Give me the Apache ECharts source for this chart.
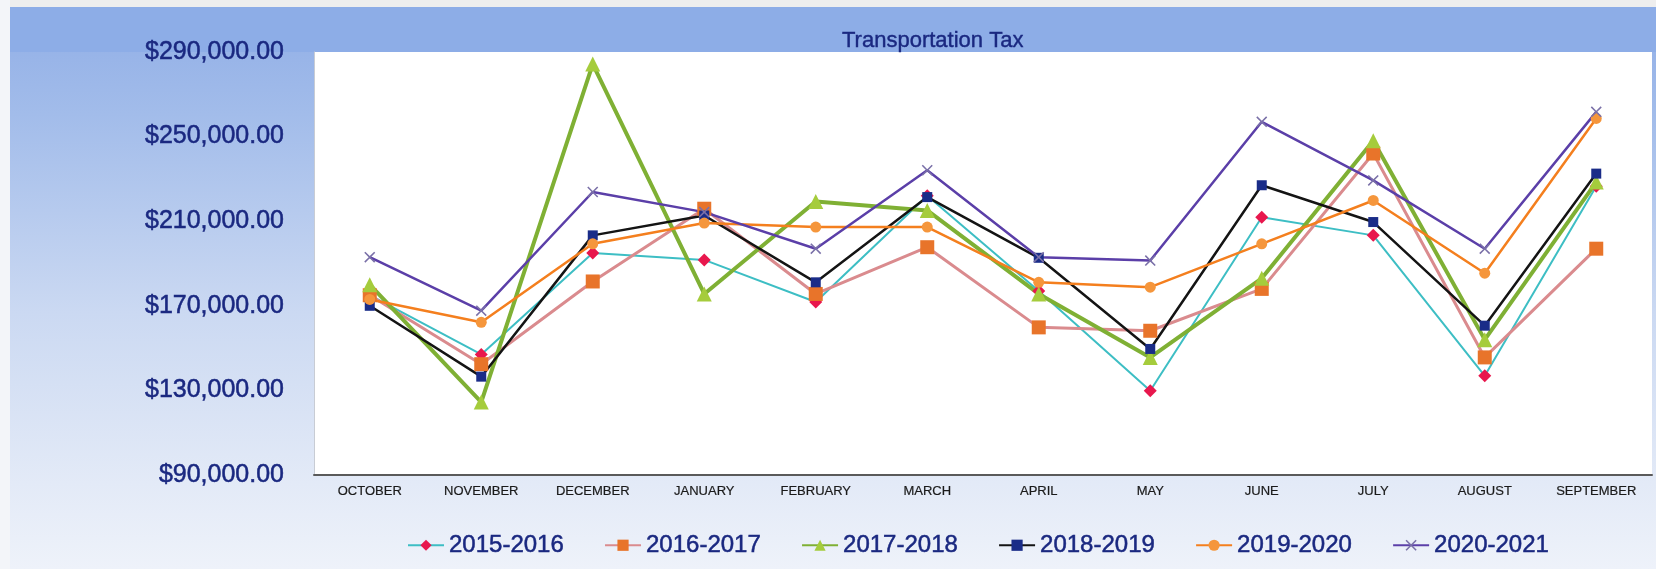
<!DOCTYPE html>
<html>
<head>
<meta charset="utf-8">
<title>Transportation Tax</title>
<script src="https://cdn.jsdelivr.net/npm/echarts@6/dist/echarts.min.js"></script>
<style>
  html, body { margin: 0; padding: 0; }
  #chart { width: 1656px; height: 569px; }
</style>
</head>
<body>
<div id="chart"></div>
<script>
const months = ['OCTOBER', 'NOVEMBER', 'DECEMBER', 'JANUARY', 'FEBRUARY', 'MARCH',
  'APRIL', 'MAY', 'JUNE', 'JULY', 'AUGUST', 'SEPTEMBER']

const fy2015 = [175000, 147000, 195000, 191700, 171800, 222000, 177000, 129800, 211900, 203300, 136900, 226500]
const fy2016 = [175000, 142400, 181500, 215900, 175600, 197700, 159800, 158200, 178000, 242000, 145600, 197000]
const fy2017 = [180000, 124500, 284300, 175600, 219300, 215100, 175600, 145600, 183000, 248000, 154000, 228500]
const fy2018 = [170000, 136500, 203300, 212700, 181100, 221400, 192700, 149600, 227000, 209600, 160600, 232500]
const fy2019 = [173000, 162200, 199300, 209100, 207200, 207200, 181100, 178800, 199300, 219800, 185400, 258600]
const fy2020 = [193000, 167700, 223800, 214300, 197000, 234100, 193000, 191400, 257000, 229300, 197000, 261700]

const yTicks = { min: 90000, max: 290000, step: 40000 }

const font = '"Liberation Sans", Arial, sans-serif'
const navy = '#1a2880'
// little x mark for 2020-2021
const crossPath = 'path://M0,1 L1,0 L5,4 L9,0 L10,1 L6,5 L10,9 L9,10 L5,6 L1,10 L0,9 L4,5 Z'

function makeSeries(name, data, lineColor, lineWidth, symbol, symbolSize, markColor) {
  return {
    name: name,
    type: 'line',
    data: data,
    symbol: symbol,
    symbolSize: symbolSize,
    showSymbol: true,
    lineStyle: { color: lineColor, width: lineWidth },
    itemStyle: { color: markColor, borderWidth: 0 },
    emphasis: { disabled: true }
  }
}

const chart = echarts.init(document.getElementById('chart'))
chart.setOption({
  animation: false,
  backgroundColor: new echarts.graphic.LinearGradient(0, 0, 0, 1, [
    { offset: 0, color: '#8fade6' },
    { offset: 0.2, color: '#a2bcea' },
    { offset: 0.55, color: '#cbd9f2' },
    { offset: 0.85, color: '#e3eaf7' },
    { offset: 1, color: '#eef2fa' }
  ]),
  graphic: [
    {
      type: 'rect', z: -10, silent: true,
      shape: { x: 0, y: 7, width: 1656, height: 45 },
      style: { fill: '#8dade7' }
    },
    {
      type: 'rect', z: -10, silent: true,
      shape: { x: 0, y: 0, width: 1656, height: 7 },
      style: { fill: '#eeeeee' }
    },
    {
      type: 'rect', z: -10, silent: true,
      shape: { x: 0, y: 0, width: 10, height: 569 },
      style: { fill: '#f3f5f9' }
    }
  ],
  title: {
    text: 'Transportation Tax',
    left: 842,
    top: 30,
    padding: 0,
    textStyle: {
      fontFamily: font, fontSize: 22, fontWeight: 'normal', color: navy,
      textBorderColor: navy, textBorderWidth: 0.4
    }
  },
  legend: {
    left: 407,
    top: 533,
    padding: 0,
    itemWidth: 36,
    itemHeight: 14,
    itemGap: 40,
    textStyle: {
      fontFamily: font, fontSize: 24, color: navy,
      textBorderColor: navy, textBorderWidth: 0.5
    }
  },
  grid: {
    left: 314,
    top: 52,
    right: 4,
    bottom: 94,
    show: true,
    backgroundColor: '#ffffff',
    borderWidth: 0
  },
  xAxis: {
    type: 'category',
    data: months,
    boundaryGap: true,
    axisLine: { lineStyle: { color: '#5a5a5a', width: 2 } },
    axisTick: { show: false },
    axisLabel: {
      fontFamily: font, fontSize: 13, color: '#1a1a1a', margin: 10,
      textBorderColor: '#1a1a1a', textBorderWidth: 0.2
    }
  },
  yAxis: {
    type: 'value',
    min: yTicks.min,
    max: yTicks.max,
    interval: yTicks.step,
    axisLine: { show: true, lineStyle: { color: '#c8ccd4', width: 1 } },
    axisTick: { show: false },
    splitLine: { show: false },
    axisLabel: {
      fontFamily: font,
      fontSize: 25,
      color: navy,
      textBorderColor: navy,
      textBorderWidth: 0.5,
      margin: 30,
      formatter: v => '$' + v.toLocaleString('en-US') + '.00'
    }
  },
  series: [
    makeSeries('2015-2016', fy2015, '#3dbec4', 2, 'diamond', 13, '#e8174d'),
    makeSeries('2016-2017', fy2016, '#da8b8e', 3, 'rect', 14, '#e8742a'),
    makeSeries('2017-2018', fy2017, '#7fb034', 4, 'triangle', 15, '#a5cc3c'),
    makeSeries('2018-2019', fy2018, '#141414', 2.5, 'rect', 10, '#1a2c88'),
    makeSeries('2019-2020', fy2019, '#f47f1e', 2.5, 'circle', 11, '#f5963c'),
    makeSeries('2020-2021', fy2020, '#5b3fa8', 2.5, crossPath, 11, '#7a70a8')
  ]
})
</script>
</body>
</html>
